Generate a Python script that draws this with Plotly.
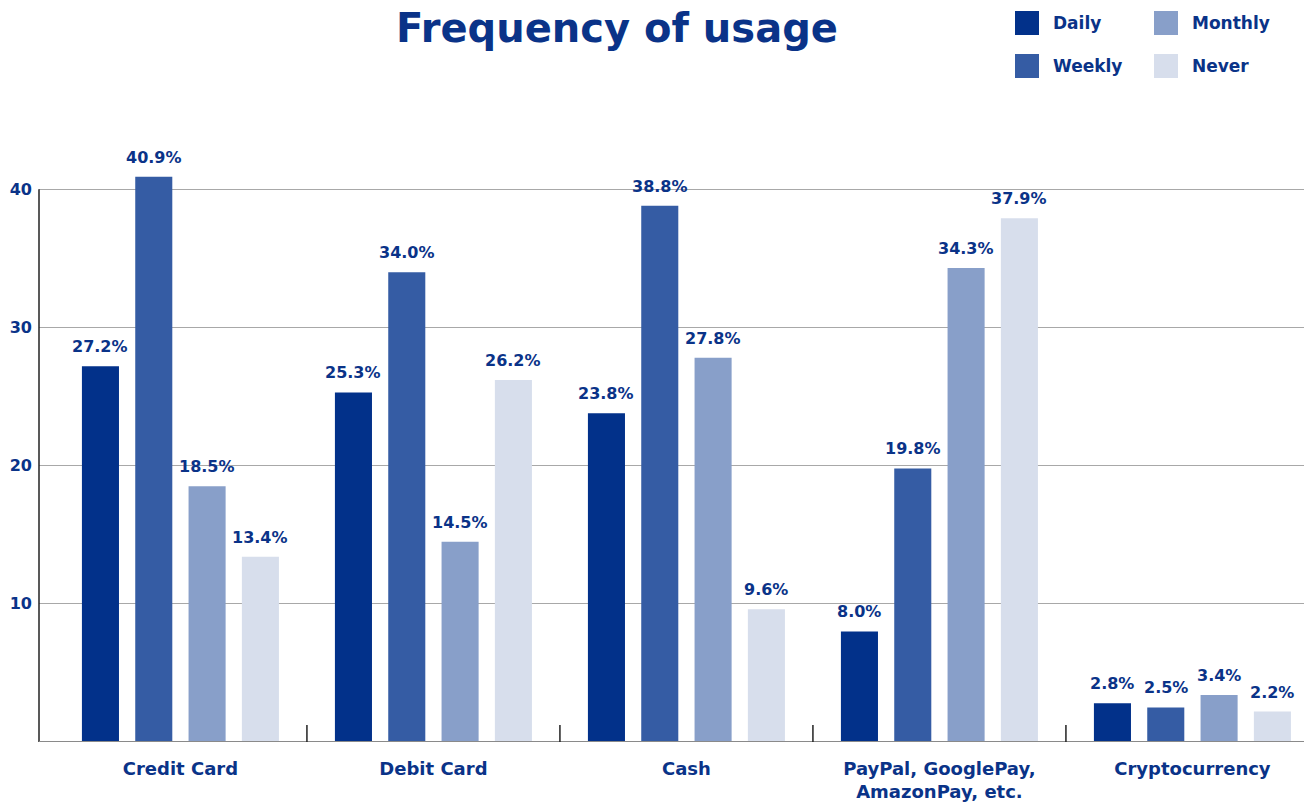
import plotly.graph_objects as go

# Survey data: share of respondents (%) per payment method and usage frequency
categories = ["Credit Card", "Debit Card", "Cash", "PayPal, GooglePay, AmazonPay, etc.", "Cryptocurrency"]
tick_labels = ["Credit Card", "Debit Card", "Cash", "PayPal, GooglePay,<br>AmazonPay, etc.", "Cryptocurrency"]
series_names = ["Daily", "Weekly", "Monthly", "Never"]
daily = [27.2, 25.3, 23.8, 8.0, 2.8]
weekly = [40.9, 34.0, 38.8, 19.8, 2.5]
monthly = [18.5, 14.5, 27.8, 34.3, 3.4]
never = [13.4, 26.2, 9.6, 37.9, 2.2]
y_ticks = [10, 20, 30, 40]

series_values = [daily, weekly, monthly, never]
colors = ["#02318a", "#355ca4", "#889fc9", "#d7deec"]
text_color = "#0a3388"
font_family = "DejaVu Sans, Verdana, sans-serif"

W, H = 1304, 803
M_L, M_R, M_T, M_B = 39, 0, 134, 61
BARGAP = 0.157
BARGROUPGAP = 0.305
slot = (1 - BARGAP) / len(series_names)


def px_x(px):
    """Convert a page x pixel to paper coordinates."""
    return (px - M_L) / (W - M_L - M_R)


def px_y(py):
    """Convert a page y pixel (from top) to paper coordinates."""
    return 1 + (M_T - py) / (H - M_T - M_B)


fig = go.Figure()
for name, vals, col in zip(series_names, series_values, colors):
    fig.add_trace(go.Bar(
        x=categories, y=vals, name=name, marker_color=col,
        marker_line_width=0, showlegend=False,
    ))

# value labels above each bar
annotations = []
for j, (vals, col) in enumerate(zip(series_values, colors)):
    offset = (j - (len(series_names) - 1) / 2) * slot
    for i, v in enumerate(vals):
        annotations.append(dict(
            x=i + offset, y=v, xref="x", yref="y", text=f"{v:.1f}%",
            showarrow=False, yanchor="bottom", yshift=8,
            font=dict(family=font_family, size=16, color=text_color, weight="bold"),
        ))

# title
annotations.append(dict(
    x=px_x(617), y=px_y(28), xref="paper", yref="paper", text="Frequency of usage",
    showarrow=False, xanchor="center", yanchor="middle",
    font=dict(family=font_family, size=40, color=text_color, weight="bold"),
))

shapes = []
# y axis line from 0 up to the top gridline
shapes.append(dict(type="line", xref="paper", yref="y", x0=0, x1=0, y0=0, y1=max(y_ticks),
                   line=dict(color="#222222", width=1.5)))
# baseline
shapes.append(dict(type="line", xref="paper", yref="y", x0=0, x1=1, y0=0, y1=0,
                   line=dict(color="#8a8a8a", width=2)))
# group separator ticks
for i in range(len(categories) - 1):
    shapes.append(dict(type="line", xref="x", yref="y", x0=i + 0.5, x1=i + 0.5,
                       ysizemode="pixel", yanchor=0, y0=0, y1=17,
                       line=dict(color="#222222", width=1.5)))

# legend drawn as swatches and labels in two columns
legend_cols = [1015, 1154]
legend_rows = [23, 66]
for k, (name, col) in enumerate(zip(series_names, colors)):
    cx = legend_cols[k // 2]
    cy = legend_rows[k % 2]
    shapes.append(dict(type="rect", xref="paper", yref="paper",
                       x0=px_x(cx), x1=px_x(cx + 24),
                       y0=px_y(cy - 12), y1=px_y(cy + 12),
                       fillcolor=col, line_width=0))
    annotations.append(dict(x=px_x(cx + 36), y=px_y(cy), xref="paper", yref="paper",
                            text=name, showarrow=False, xanchor="left", yanchor="middle",
                            font=dict(family=font_family, size=17, color=text_color, weight="bold")))

fig.update_layout(
    width=W, height=H,
    margin=dict(l=M_L, r=M_R, t=M_T, b=M_B),
    paper_bgcolor="white", plot_bgcolor="white",
    barmode="group", bargap=BARGAP, bargroupgap=BARGROUPGAP,
    annotations=annotations, shapes=shapes,
    xaxis=dict(
        type="category", range=[-0.559, 4.441],
        tickvals=categories, ticktext=tick_labels,
        showgrid=False, showline=False, zeroline=False, ticks="",
        tickfont=dict(family=font_family, size=18, color=text_color, weight="bold"),
        ticklabelstandoff=14,
    ),
    yaxis=dict(
        range=[0, 44], tickvals=y_ticks, ticktext=[str(t) for t in y_ticks],
        showgrid=True, gridcolor="#a8a8a8", gridwidth=1,
        showline=False, zeroline=False, ticks="",
        tickfont=dict(family=font_family, size=16, color=text_color, weight="bold"),
        ticklabelstandoff=6,
    ),
)

fig.write_html("out.html")
